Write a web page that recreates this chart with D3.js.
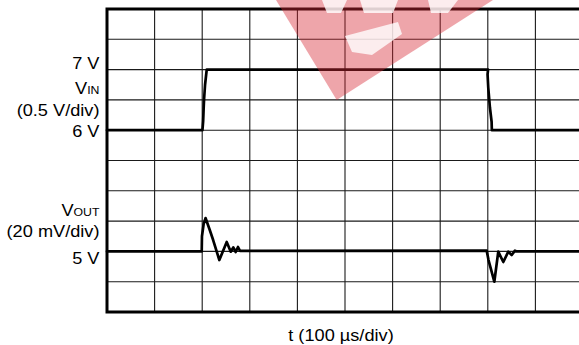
<!DOCTYPE html>
<html>
<head>
<meta charset="utf-8">
<script src="https://cdn.jsdelivr.net/npm/d3@7"></script>
<style>
  html, body { margin: 0; padding: 0; background: #fff; }
  svg { display: block; }
  text { font-family: "Liberation Sans", Arial, sans-serif; fill: #000; }
</style>
</head>
<body>
<svg id="chart" width="579" height="345"></svg>
<script>
// Time axis: 10 divisions of 100 µs
const timeDomain = [0, 1000];
const gridTimes = [100, 200, 300, 400, 500, 600, 700, 800, 900];
const gridDivs = [1, 2, 3, 4, 5, 6, 7, 8, 9];

// Input step (V) versus time (µs)
const vinTime  = [0, 200.5, 202, 203, 204, 206, 209.5, 800.5, 799.5, 801, 804.5, 808, 808.5, 1000];
const vinVolts = [6, 6, 6.15, 6.35, 6.52, 6.75, 7, 7, 6.92, 6.7, 6.37, 6.14, 6, 6];

// Output deviation from 5 V (mV) versus time (µs)
const voutTime = [0, 199, 199.5, 203, 207, 215, 223, 236, 251.5, 260, 265.3, 270.4, 275.2, 279.4,
                  797.7, 801.5, 813.7, 822, 832.6, 843, 850.2, 857.1, 861, 1000];
const voutMilli = [0, 0, 10, 18, 22, 15, 7.5, -5.7, 6.2, -0.2, 2.6, -0.4, 2.9, 0.3,
                   0.5, -5.7, -20, -0.2, -7, -0.2, -2.4, 0.5, 0, 0];

// Left-side labels
const vinLevels = [7, 6];
const voutLevels = [0];

const plotLeft = 107, plotTop = 9, divW = 47.6, divH = 30.3;
const plotW = divW * 10, plotH = divH * 10;

const svg = d3.select("#chart");

const x = d3.scaleLinear().domain(timeDomain).range([plotLeft, plotLeft + plotW]);
const yDiv = d3.scaleLinear().domain([0, 10]).range([plotTop + plotH, plotTop]);
// 0.5 V/div with 6 V on the 6th division
const yIn = d3.scaleLinear().domain([3, 8]).range([plotTop + plotH, plotTop]);
// 20 mV/div with 5 V on the 2nd division
const yOut = d3.scaleLinear().domain([-40, 160]).range([plotTop + plotH, plotTop]);

// Grid
const grid = svg.append("g").attr("stroke", "#1a1a1a").attr("stroke-width", 1.1);
grid.selectAll("line.v").data(gridTimes).join("line").attr("class", "v")
  .attr("x1", d => x(d)).attr("x2", d => x(d))
  .attr("y1", plotTop).attr("y2", plotTop + plotH);
grid.selectAll("line.h").data(gridDivs).join("line").attr("class", "h")
  .attr("x1", plotLeft).attr("x2", plotLeft + plotW)
  .attr("y1", d => yDiv(d)).attr("y2", d => yDiv(d));

// Frame
svg.append("path")
  .attr("d", `M${plotLeft + plotW},${plotTop}H${plotLeft}V${plotTop + plotH}H${plotLeft + plotW}`)
  .attr("stroke", "#000").attr("stroke-width", 3).attr("fill", "none");

// Traces
const lineIn = d3.line().x((d, i) => x(vinTime[i])).y(d => yIn(d));
const lineOut = d3.line().x((d, i) => x(voutTime[i])).y(d => yOut(d));

svg.append("path").datum(vinVolts)
  .attr("d", lineIn).attr("fill", "none").attr("stroke", "#000")
  .attr("stroke-width", 2.7).attr("stroke-linejoin", "round").attr("stroke-linecap", "round");
svg.append("path").datum(voutMilli)
  .attr("d", lineOut).attr("fill", "none").attr("stroke", "#000")
  .attr("stroke-width", 2.7).attr("stroke-linejoin", "round").attr("stroke-linecap", "round");

// Translucent logo stamp across the top of the grid
const stamp = svg.append("g");
stamp.append("path")
  .attr("d", "M276,0 L336.7,100 L493,0 Z")
  .attr("fill", "rgb(214,40,52)").attr("fill-opacity", 0.42);
const stampWhite = [
  "M322,0 L347,0 L341,13 L327,13 Z",
  "M345,36 L398,22 L402,34 L372,55 L352,52 Z",
  "M360,0 L398,0 L393,13 L364,13 Z",
  "M428,0 L458,0 L448,13 L431,13 Z"
];
stamp.selectAll("path.w").data(stampWhite).join("path").attr("class", "w")
  .attr("d", d => d).attr("fill", "#fff").attr("fill-opacity", 0.8);

// Labels
const fs = 17, stretch = 1.07, lx = 99.5;
function label(y, build) {
  const g = svg.append("g").attr("transform", `translate(${lx},${y}) scale(${stretch},1)`);
  const t = g.append("text").attr("text-anchor", "end").attr("font-size", fs);
  build(t);
}
label(yIn(vinLevels[0]) - 1, t => t.text(vinLevels[0] + " V"));
label(94, t => { t.append("tspan").text("V"); t.append("tspan").attr("font-size", 11.5).text("IN"); });
label(116, t => t.text("(0.5 V/div)"));
label(yIn(vinLevels[1]) + 7, t => t.text(vinLevels[1] + " V"));

label(216, t => { t.append("tspan").text("V"); t.append("tspan").attr("font-size", 11.5).text("OUT"); });
label(237, t => t.text("(20 mV/div)"));
label(yOut(voutLevels[0]) + 13, t => t.text("5 V"));

svg.append("g").attr("transform", `translate(${x(500) - 4},341) scale(${stretch},1)`)
  .append("text").attr("text-anchor", "middle").attr("font-size", fs)
  .text("t (100 µs/div)");
</script>
</body>
</html>
